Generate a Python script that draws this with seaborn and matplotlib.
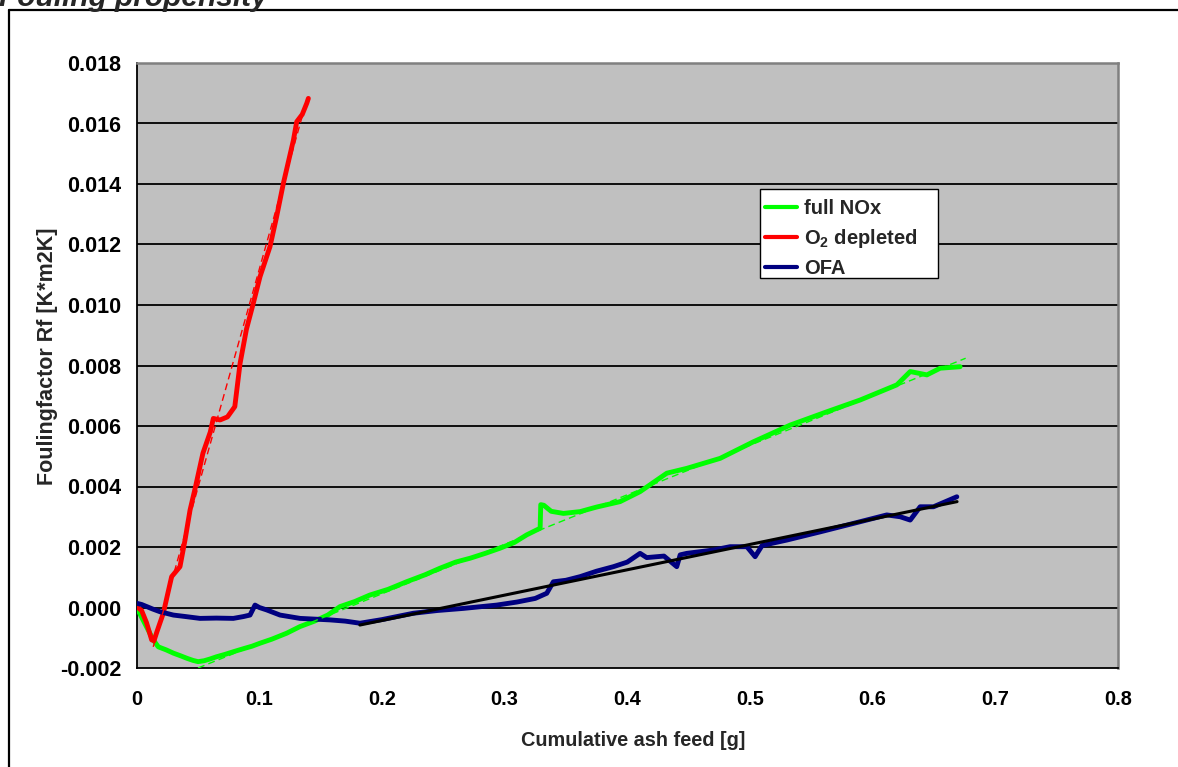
import numpy as np
import matplotlib
matplotlib.use("Agg")
import matplotlib.pyplot as plt
import seaborn as sns
from matplotlib.lines import Line2D
from matplotlib.patches import Rectangle

# ---------------- data ----------------
series_names = ["full NOx", "O$_2$ depleted", "OFA"]

nox_x = [0, 0.005, 0.0135, 0.0176, 0.024, 0.030, 0.036, 0.041, 0.046, 0.050, 0.055,
         0.060, 0.065, 0.072, 0.079, 0.088, 0.094, 0.1006, 0.110, 0.1223, 0.1332,
         0.145, 0.1558, 0.1658, 0.178, 0.190, 0.205, 0.220, 0.235, 0.2474, 0.260,
         0.272, 0.285, 0.2963, 0.308, 0.318, 0.329, 0.3295, 0.332, 0.338, 0.348,
         0.3616, 0.375, 0.3942, 0.4105, 0.4323, 0.4486, 0.4758, 0.503, 0.5329,
         0.5628, 0.590, 0.6199, 0.6308, 0.6444, 0.6552, 0.6715]
nox_y = [0, -0.0004, -0.00107, -0.0013, -0.0014, -0.00151, -0.0016, -0.00168, -0.00175,
         -0.00179, -0.00176, -0.0017, -0.00163, -0.00155, -0.00146, -0.00135, -0.00128,
         -0.00118, -0.00105, -0.00085, -0.00063, -0.00045, -0.00025, 0.00003, 0.0002,
         0.00041, 0.0006, 0.00085, 0.00108, 0.0013, 0.0015, 0.00163, 0.0018, 0.00196,
         0.00215, 0.0024, 0.00262, 0.0034, 0.00338, 0.00318, 0.00311, 0.00317, 0.00332,
         0.0035, 0.00383, 0.00444, 0.0046, 0.00493, 0.00548, 0.00603, 0.00647, 0.00686,
         0.00736, 0.0078, 0.00769, 0.00791, 0.00796]

o2_x = [0, 0.004, 0.008, 0.0122, 0.0141, 0.0165, 0.0217, 0.025, 0.0285, 0.0353, 0.0394,
        0.0435, 0.048, 0.054, 0.060, 0.0625, 0.068, 0.074, 0.080, 0.0843, 0.0895,
        0.0951, 0.1006, 0.1087, 0.114, 0.1196, 0.1278, 0.1305, 0.135, 0.1387, 0.140]
o2_y = [0.00003, -0.0001, -0.0005, -0.00107, -0.0011, -0.0008, -0.00019, 0.0004, 0.00102,
        0.00135, 0.00223, 0.00322, 0.004, 0.0051, 0.0058, 0.00625, 0.0062, 0.0063,
        0.00664, 0.00807, 0.0092, 0.01006, 0.01094, 0.01193, 0.0129, 0.01402, 0.01545,
        0.01606, 0.0163, 0.01667, 0.01683]

ofa_x = [0, 0.004, 0.0082, 0.013, 0.019, 0.025, 0.0299, 0.040, 0.0516, 0.065, 0.0788,
         0.087, 0.0924, 0.0965, 0.100, 0.106, 0.1169, 0.1332, 0.1577, 0.170, 0.1821,
         0.200, 0.2256, 0.245, 0.2664, 0.2936, 0.310, 0.325, 0.3344, 0.3398, 0.350,
         0.3616, 0.375, 0.3888, 0.400, 0.4105, 0.4159, 0.430, 0.4404, 0.4432, 0.4486,
         0.4703, 0.4839, 0.4976, 0.5043, 0.510, 0.5302, 0.5573, 0.5845, 0.6117, 0.6226,
         0.6308, 0.6389, 0.6498, 0.6688]
ofa_y = [0.00014, 0.0001, 0.00003, -0.00005, -0.00014, -0.0002, -0.00025, -0.0003,
         -0.00036, -0.00035, -0.00036, -0.0003, -0.00025, 0.00008, 0.0, -0.00008,
         -0.00025, -0.00036, -0.00041, -0.00045, -0.00052, -0.0004, -0.00019, -0.0001,
         -0.00003, 0.00008, 0.00018, 0.0003, 0.00047, 0.00085, 0.0009, 0.00102, 0.0012,
         0.00135, 0.0015, 0.00179, 0.00165, 0.0017, 0.00135, 0.00174, 0.00179, 0.0019,
         0.00201, 0.00201, 0.00168, 0.00205, 0.00223, 0.0025, 0.00278, 0.00306, 0.003,
         0.00289, 0.00333, 0.00333, 0.00366]

# linear trend lines (end points)
trend_nox_x = [0.05, 0.676]
trend_nox_y = [-0.0020, 0.00824]
trend_o2_x = [0.0135, 0.1375]
trend_o2_y = [-0.0013, 0.0166]
trend_ofa_x = [0.182, 0.669]
trend_ofa_y = [-0.00058, 0.0035]

x_ticks = [0, 0.1, 0.2, 0.3, 0.4, 0.5, 0.6, 0.7, 0.8]
x_ticklabels = ["0", "0.1", "0.2", "0.3", "0.4", "0.5", "0.6", "0.7", "0.8"]
y_ticks = [-0.002, 0.0, 0.002, 0.004, 0.006, 0.008, 0.010, 0.012, 0.014, 0.016, 0.018]
y_ticklabels = ["-0.002", "0.000", "0.002", "0.004", "0.006", "0.008", "0.010",
                "0.012", "0.014", "0.016", "0.018"]

# ---------------- styling ----------------
sns.set_style("white")
plt.rcParams['font.family'] = ['Liberation Sans', 'DejaVu Sans']
plt.rcParams['mathtext.fontset'] = 'custom'
plt.rcParams['mathtext.rm'] = 'Liberation Sans:bold'
plt.rcParams['mathtext.it'] = 'Liberation Sans:bold'
plt.rcParams['mathtext.bf'] = 'Liberation Sans:bold'

GREEN = "#00FF00"
RED = "#FF0000"
NAVY = "#000080"

W, H = 1178, 767
fig = plt.figure(figsize=(W / 100, H / 100), dpi=100)
fig.patch.set_facecolor("white")

L, R, T, B = 136.7, 1117.7, 63, 668
ax = fig.add_axes([L / W, 1 - B / H, (R - L) / W, (B - T) / H])
ax.set_facecolor("#C0C0C0")


def ax_x(px):
    return (px - L) / (R - L)


def ax_y(py):
    return (B - py) / (B - T)


# horizontal gridlines
for v in y_ticks[1:-1]:
    ax.axhline(v, color="black", lw=1.3, zorder=0.5)

# series
sns.lineplot(x=nox_x, y=nox_y, ax=ax, color=GREEN, lw=3.5, sort=False,
             estimator=None, legend=False, zorder=3)
sns.lineplot(x=o2_x, y=o2_y, ax=ax, color=RED, lw=3.5, sort=False,
             estimator=None, legend=False, zorder=3)
sns.lineplot(x=ofa_x, y=ofa_y, ax=ax, color=NAVY, lw=3.5, sort=False,
             estimator=None, legend=False, zorder=3)

# trend lines
ax.plot(trend_nox_x, trend_nox_y, color=GREEN, lw=1.0, ls=(0, (5, 3)), zorder=4)
ax.plot(trend_o2_x, trend_o2_y, color=RED, lw=1.0, ls=(0, (5, 3)), zorder=4)
ax.plot(trend_ofa_x, trend_ofa_y, color="black", lw=2.2, zorder=4)

ax.set_xlim(0, 0.8)
ax.set_ylim(-0.002, 0.018)
ax.set_xticks(x_ticks)
ax.set_xticklabels(x_ticklabels)
ax.set_yticks(y_ticks)
ax.set_yticklabels(y_ticklabels)
ax.tick_params(axis="both", direction="out", length=5, width=1.2, color="black",
               labelcolor="black")
ax.tick_params(axis="x", pad=11, labelsize=14.3)
ax.tick_params(axis="y", pad=6, labelsize=15.5)
for lab in ax.get_xticklabels() + ax.get_yticklabels():
    lab.set_fontweight("bold")
ax.set_xlabel("")
ax.set_ylabel("")

for s in ["left", "bottom"]:
    ax.spines[s].set_color("black")
    ax.spines[s].set_linewidth(1.3)
for s in ["top", "right"]:
    ax.spines[s].set_color("#808080")
    ax.spines[s].set_linewidth(1.8)

# legend: white box + entries
x0, x1 = ax_x(760), ax_x(938)
y0, y1 = ax_y(278), ax_y(189)
ax.add_patch(Rectangle((x0, y0), x1 - x0, y1 - y0, transform=ax.transAxes,
                       facecolor="white", edgecolor="black", lw=1.0, zorder=9))
handles = [Line2D([], [], color=GREEN, lw=3),
           Line2D([], [], color=RED, lw=3),
           Line2D([], [], color=NAVY, lw=3)]
leg = ax.legend(handles, series_names, loc="upper left",
                bbox_to_anchor=(ax_x(761), ax_y(195)),
                frameon=False, prop={"weight": "bold", "size": 14.5},
                handlelength=1.6, handletextpad=0.35, labelspacing=0.45,
                borderpad=0.2, borderaxespad=0)
leg.set_zorder(10)

# axis labels
fig.text(633 / W, 1 - 740 / H, "Cumulative ash feed [g]", ha="center", va="center",
         fontsize=14.3, fontweight="bold")
fig.text(48 / W, 1 - 356 / H, "Foulingfactor Rf [K*m2K]", ha="center", va="center",
         rotation=90, fontsize=15.5, fontweight="bold")

# outer frame (left & top) and title (cut at the top edge, as in the reference)
fig.add_artist(Line2D([9 / W, 9 / W], [0, 1 - 9.5 / H], transform=fig.transFigure,
                      color="black", lw=1.6))
fig.add_artist(Line2D([9 / W, 1], [1 - 9.5 / H, 1 - 9.5 / H], transform=fig.transFigure,
                      color="black", lw=1.6))
fig.text(-1 / W, 1 - 6 / H, "Fouling propensity", ha="left", va="baseline",
         fontsize=21.5, fontweight="bold", fontstyle="italic")

fig.savefig("out.png", dpi=100)
